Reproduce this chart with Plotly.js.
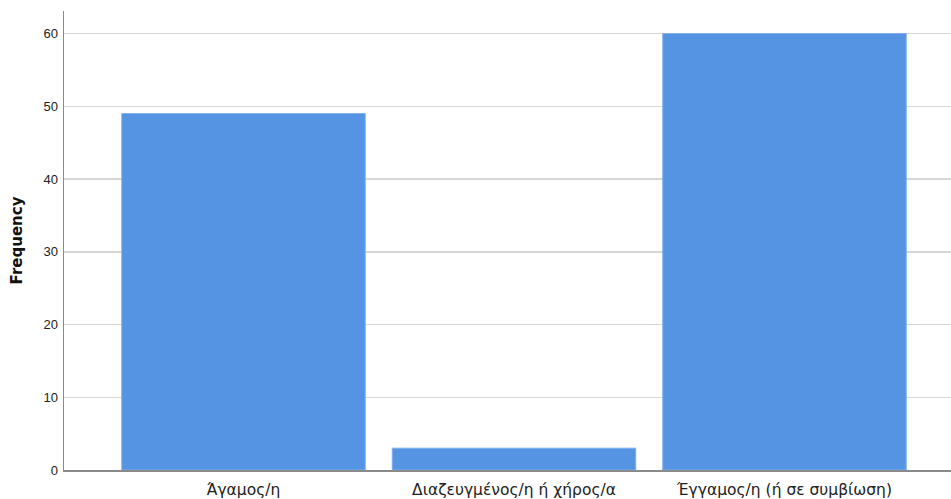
<!DOCTYPE html>
<html>
<head>
<meta charset="utf-8">
<script src="https://cdn.plot.ly/plotly-3.0.1.min.js"></script>
<style>html,body{margin:0;padding:0;background:#fff;}#chart{width:951px;height:499px;}</style>
</head>
<body>
<div id="chart"></div>
<script>
const categories = ["Άγαμος/η", "Διαζευγμένος/η ή χήρος/α", "Έγγαμος/η (ή σε συμβίωση)"];
const frequencies = [49, 3, 60];
const yTicks = [0, 10, 20, 30, 40, 50, 60];

const trace = {
  type: "bar",
  x: categories,
  y: frequencies,
  width: 0.9,
  marker: {color: "#5594E3", line: {color: "#7EAEEB", width: 1}},
  hoverinfo: "x+y"
};

const layout = {
  width: 951, height: 499,
  margin: {l: 64, r: 0, t: 11, b: 29, pad: 0},
  paper_bgcolor: "#ffffff",
  plot_bgcolor: "#ffffff",
  showlegend: false,
  font: {family: "Liberation Sans, Arial, sans-serif", color: "#222"},
  xaxis: {
    type: "category",
    range: [-0.6636, 2.6155],
    showgrid: false,
    showline: true, linecolor: "#8a8a8a", linewidth: 1.5,
    ticks: "outside", ticklen: 5, tickcolor: "rgba(0,0,0,0)",
    tickfont: {family: "DejaVu Sans, sans-serif", size: 15.5, color: "#222"},
    zeroline: false, fixedrange: true
  },
  yaxis: {
    range: [0, 63.1],
    tickvals: yTicks,
    ticktext: yTicks.map(String),
    showgrid: true, gridcolor: "#d6d6d6", gridwidth: 1.5,
    showline: true, linecolor: "#8a8a8a", linewidth: 1.5,
    ticks: "outside", ticklen: 2, tickcolor: "rgba(0,0,0,0)",
    tickfont: {size: 13, color: "#222"},
    zeroline: false,
    title: {text: "<b>Frequency</b>", font: {family: "DejaVu Sans, sans-serif", size: 15, color: "#111"}, standoff: 17},
    fixedrange: true
  },
  bargap: 0.1
};

Plotly.newPlot("chart", [trace], layout, {displayModeBar: false, staticPlot: true});
</script>
</body>
</html>
